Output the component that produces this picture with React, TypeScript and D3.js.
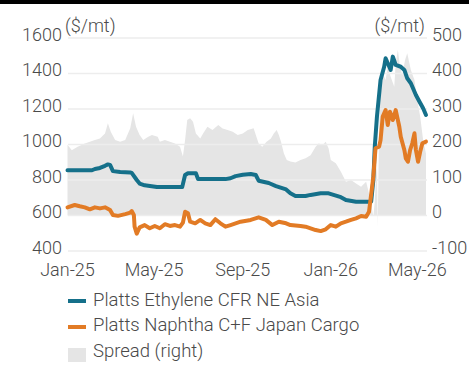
import React from "react";
import * as d3 from "d3";

const ethyleneDates = ["2025-01-01","2025-02-04","2025-02-08","2025-02-15","2025-02-22","2025-02-26","2025-03-01","2025-03-05","2025-03-15","2025-03-29","2025-03-31","2025-04-07","2025-04-11","2025-04-18","2025-05-05","2025-05-20","2025-06-09","2025-06-13","2025-06-17","2025-06-28","2025-07-01","2025-08-08","2025-08-15","2025-08-22","2025-09-01","2025-09-12","2025-09-19","2025-09-23","2025-10-07","2025-10-17","2025-10-31","2025-11-06","2025-11-13","2025-11-27","2025-12-04","2025-12-18","2025-12-29","2026-01-15","2026-01-22","2026-02-05","2026-02-26","2026-03-01","2026-03-03","2026-03-06","2026-03-11","2026-03-16","2026-03-18","2026-03-25","2026-03-28","2026-04-01","2026-04-08","2026-04-13","2026-04-17","2026-04-22","2026-04-29","2026-05-04","2026-05-09","2026-05-13"];
const ethyleneValues = [855,855,862,868,880,888,885,850,845,842,840,800,780,770,760,760,760,828,838,838,805,805,810,822,830,834,828,796,783,766,747,725,710,710,716,725,725,703,687,678,678,800,988,1157,1363,1438,1486,1420,1495,1448,1438,1420,1373,1345,1279,1241,1204,1166];

const naphthaDates = ["2025-01-01","2025-01-11","2025-01-18","2025-01-25","2025-02-01","2025-02-08","2025-02-15","2025-02-22","2025-03-01","2025-03-05","2025-03-12","2025-03-22","2025-03-29","2025-03-31","2025-04-03","2025-04-04","2025-04-07","2025-04-11","2025-04-18","2025-04-25","2025-05-02","2025-05-09","2025-05-16","2025-05-23","2025-05-30","2025-06-06","2025-06-10","2025-06-13","2025-06-17","2025-06-20","2025-06-27","2025-07-04","2025-07-11","2025-07-18","2025-07-25","2025-08-01","2025-08-08","2025-08-15","2025-08-29","2025-09-12","2025-09-23","2025-10-03","2025-10-12","2025-10-21","2025-10-31","2025-11-06","2025-11-20","2025-11-27","2025-12-11","2025-12-18","2025-12-25","2026-01-01","2026-01-08","2026-01-15","2026-01-22","2026-01-29","2026-02-05","2026-02-12","2026-02-19","2026-02-23","2026-03-01","2026-03-04","2026-03-09","2026-03-11","2026-03-14","2026-03-18","2026-03-21","2026-03-24","2026-03-28","2026-04-01","2026-04-06","2026-04-08","2026-04-13","2026-04-15","2026-04-18","2026-04-21","2026-04-24","2026-04-27","2026-04-29","2026-05-02","2026-05-05","2026-05-08","2026-05-13"];
const naphthaValues = [646,659,652,646,635,646,640,646,631,603,598,608,616,625,603,537,498,533,546,528,541,528,551,541,546,537,560,621,612,565,556,575,556,546,579,556,537,546,565,575,590,575,546,565,556,546,541,537,518,512,522,546,537,556,565,575,584,597,593,621,819,979,988,1025,1157,1194,1110,1185,1138,1194,1100,1044,969,922,903,969,1007,1063,969,903,960,1007,1016];

const spreadDates = ["2025-01-01","2025-01-07","2025-01-15","2025-01-25","2025-02-01","2025-02-08","2025-02-15","2025-02-22","2025-02-26","2025-03-02","2025-03-08","2025-03-15","2025-03-22","2025-03-29","2025-04-02","2025-04-06","2025-04-11","2025-04-16","2025-04-23","2025-04-28","2025-05-06","2025-05-09","2025-05-16","2025-05-23","2025-05-30","2025-06-06","2025-06-10","2025-06-13","2025-06-16","2025-06-20","2025-06-24","2025-06-28","2025-07-04","2025-07-08","2025-07-14","2025-07-21","2025-07-29","2025-08-04","2025-08-11","2025-08-18","2025-08-25","2025-09-01","2025-09-08","2025-09-16","2025-09-23","2025-09-28","2025-10-04","2025-10-10","2025-10-14","2025-10-18","2025-10-21","2025-10-24","2025-10-28","2025-11-01","2025-11-06","2025-11-13","2025-11-20","2025-11-27","2025-12-04","2025-12-11","2025-12-15","2025-12-21","2025-12-25","2025-12-29","2026-01-01","2026-01-08","2026-01-15","2026-01-22","2026-01-29","2026-02-05","2026-02-12","2026-02-19","2026-02-23","2026-02-27","2026-03-01","2026-03-03","2026-03-06","2026-03-07","2026-03-09","2026-03-11","2026-03-14","2026-03-18","2026-03-21","2026-03-25","2026-03-30","2026-04-01","2026-04-04","2026-04-07","2026-04-10","2026-04-14","2026-04-17","2026-04-20","2026-04-22","2026-04-27","2026-05-01","2026-05-05","2026-05-09","2026-05-13"];
const spreadValues = [199,184,194,203,208,213,217,231,260,236,213,208,213,246,288,250,227,213,222,227,222,208,213,208,203,194,166,213,269,274,264,231,217,231,250,241,255,245,241,236,227,231,241,246,203,194,208,217,231,241,227,208,175,156,152,149,156,161,170,194,203,199,208,189,156,147,123,95,100,90,81,95,62,20,-3,40,166,-35,250,335,400,382,419,391,363,429,466,419,396,438,457,429,410,382,325,278,213,175];

const leftTicks = [400, 600, 800, 1000, 1200, 1400, 1600];
const rightTicks = [-100, 0, 100, 200, 300, 400, 500];
const xTickDates = ["2025-01-01", "2025-05-01", "2025-09-01", "2026-01-01", "2026-05-01"];
const legendLabels = ["Platts Ethylene CFR NE Asia", "Platts Naphtha C+F Japan Cargo", "Spread (right)"];
const unitLabel = "($/mt)";

const parse = d3.timeParse("%Y-%m-%d");
const fmt = d3.timeFormat("%b-%y");

const TEAL = "#15708a";
const ORANGE = "#e27b25";
const AREA = "#e5e5e5";
const GRID = "#ededed";
const TEXT = "#4a4a4a";
const FONT = "Roboto, 'DejaVu Sans', sans-serif";
const FS = 18;
const LFS = 18.5;

export default function App() {
  const W = 469, H = 372;
  const x = d3.scaleTime()
    .domain([parse("2025-01-01")!, parse("2026-05-13")!])
    .range([67.5, 426]);
  const yL = d3.scaleLinear().domain([400, 1600]).range([251, 38]);
  const yR = d3.scaleLinear().domain([-100, 500]).range([251, 38]);

  const eth = ethyleneDates.map((d, i) => ({ d: parse(d)!, v: ethyleneValues[i] }));
  const nap = naphthaDates.map((d, i) => ({ d: parse(d)!, v: naphthaValues[i] }));
  const spr = spreadDates.map((d, i) => ({ d: parse(d)!, v: spreadValues[i] }));

  const lineL = d3.line<{ d: Date; v: number }>().x(p => x(p.d)).y(p => yL(p.v));
  const area = d3.area<{ d: Date; v: number }>().x(p => x(p.d)).y0(yR(0)).y1(p => yR(p.v));

  const gx0 = 68, gx1 = 427;

  return (
    <svg width={W} height={H} style={{ position: "absolute", left: 0, top: 0, background: "#fff" }}
      fontFamily={FONT} fontWeight={300}>
      <rect x={0} y={0} width={W} height={4} fill="#000" />
      <path d={area(spr) || ""} fill={AREA} />
      {leftTicks.map(t => (
        <line key={t} x1={gx0} x2={gx1} y1={yL(t)} y2={yL(t)} stroke={GRID} strokeWidth={1.5} />
      ))}
      <path d={lineL(eth) || ""} fill="none" stroke={TEAL} strokeWidth={4} strokeLinejoin="round" strokeLinecap="round" />
      <path d={lineL(nap) || ""} fill="none" stroke={ORANGE} strokeWidth={4} strokeLinejoin="round" strokeLinecap="round" />
      {leftTicks.map(t => (
        <text key={t} x={62} y={yL(t) - 2} textAnchor="end" dominantBaseline="middle" fontSize={FS} fill={TEXT}>{t}</text>
      ))}
      {rightTicks.map(t => (
        <text key={t} x={432} y={yR(t) - 2} textAnchor="start" dominantBaseline="middle" fontSize={FS} fill={TEXT}>{t}</text>
      ))}
      <text x={65} y={27} dominantBaseline="middle" fontSize={FS} fill={TEXT}>{unitLabel}</text>
      <text x={425} y={27} textAnchor="end" dominantBaseline="middle" fontSize={FS} fill={TEXT}>{unitLabel}</text>
      {xTickDates.map(t => (
        <text key={t} x={x(parse(t)!)} y={271} textAnchor="middle" dominantBaseline="middle" fontSize={FS} fill={TEXT}>{fmt(parse(t)!)}</text>
      ))}
      <line x1={68} x2={86} y1={301} y2={301} stroke={TEAL} strokeWidth={4} />
      <line x1={68} x2={86} y1={327} y2={327} stroke={ORANGE} strokeWidth={4} />
      <rect x={68} y={348} width={18} height={14} fill={AREA} />
      {legendLabels.map((l, i) => (
        <text key={l} x={93} y={301 + i * 25.5} dominantBaseline="middle" fontSize={LFS} fill={TEXT}>{l}</text>
      ))}
    </svg>
  );
}
